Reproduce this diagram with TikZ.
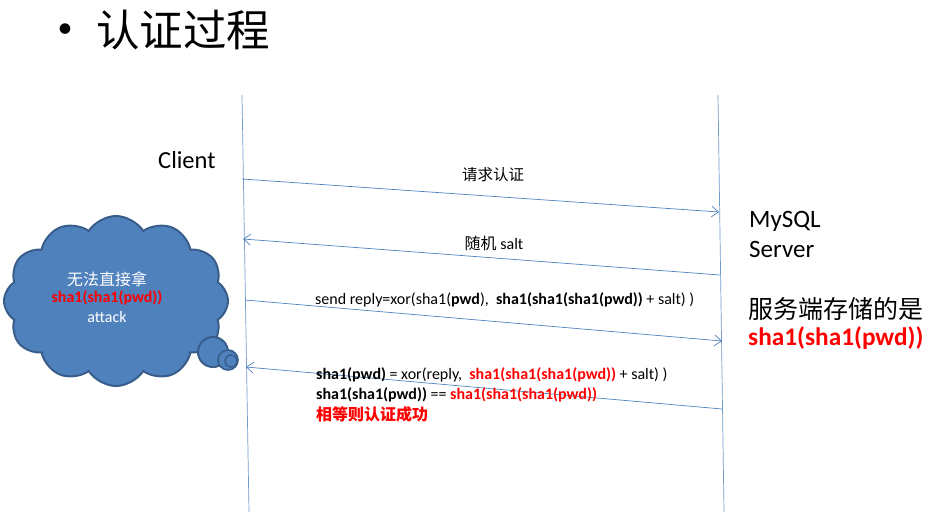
\documentclass[tikz,border=0pt]{standalone}
\usepackage{fontspec}
\setmainfont{Carlito}
\newfontfamily\cjk{Noto Sans CJK SC}
\usetikzlibrary{arrows.meta,shapes.symbols}
\definecolor{lineblue}{RGB}{79,129,189}
\definecolor{cloudfill}{RGB}{79,129,189}
\definecolor{clouddraw}{RGB}{56,93,138}
\definecolor{myred}{RGB}{255,0,0}
\tikzset{
  lifeline/.style={draw=lineblue!80, line width=0.7pt},
  msg/.style={draw=lineblue, line width=0.7pt, -{Straight Barb[length=7pt,width=11pt,line width=0.7pt]}},
  lbl/.style={inner sep=0pt, font=\fontsize{16}{19}\selectfont},
  bigtxt/.style={inner sep=0pt, anchor=west, font=\fontsize{25}{29}\selectfont},
  puff/.style={fill=cloudfill, draw=clouddraw, line width=2pt}
}
\begin{document}
\begin{tikzpicture}[x=1pt,y=-1pt]
\useasboundingbox (0,0) rectangle (929,515);
% title
\node[inner sep=0pt] (bullet) at (65,31) {\fontsize{30}{30}\selectfont •};
\node[inner sep=0pt, anchor=west] (title) at (96,30) {\cjk\fontsize{43.5}{47}\selectfont 认证过程};
% lifelines
\coordinate (ct) at (242,95);
\coordinate (cb) at (249,512);
\coordinate (st) at (718,95);
\coordinate (sb) at (724,512);
\draw[lifeline] (ct) -- (cb);
\draw[lifeline] (st) -- (sb);
% labels of parties
\node[bigtxt, font=\fontsize{24.5}{28}\selectfont] (client) at (158,160) {Client};
\node[bigtxt] (mysql) at (749,221) {MySQL};
\node[bigtxt] (server) at (749,249) {Server};
\node[bigtxt, font=\cjk\fontsize{25}{29}\selectfont] (store) at (748,309) {服务端存储的是};
\node[bigtxt, font=\bfseries\fontsize{25.3}{29}\selectfont, text=myred] (storehash) at (748,338) {sha1(sha1(pwd))};
% message endpoints
\coordinate (m1a) at (242,179);
\coordinate (m1b) at (719,212);
\coordinate (m2a) at (720,275);
\coordinate (m2b) at (243,239);
\coordinate (m3a) at (245,300);
\coordinate (m3b) at (722,341);
\coordinate (m4a) at (722,409);
\coordinate (m4b) at (246,367);
\draw[msg] (m1a) -- (m1b);
\draw[msg] (m2a) -- (m2b);
\draw[msg] (m3a) -- (m3b);
\draw[msg] (m4a) -- (m4b);
% message labels
\node[lbl, font=\cjk\fontsize{15.5}{18}\selectfont] (l1) at (493,175) {请求认证};
\node[lbl] (l2) at (494,243) {{\cjk 随机} salt};
\node[lbl, anchor=west] (l3) at (315,300) {send reply=xor(sha1(\textbf{pwd}),\ \ \textbf{sha1(sha1(sha1(pwd))}\ + salt) )};
\node[lbl, anchor=west] (l4) at (316,375) {\textbf{sha1(pwd)} = xor(reply,\ \ \textcolor{myred}{\bfseries sha1(sha1(sha1(pwd))}\ + salt) )};
\node[lbl, anchor=west] (l5) at (316,395) {\textbf{sha1(sha1(pwd))} == \textcolor{myred}{\bfseries sha1(sha1(sha1(pwd))}};
\node[lbl, anchor=west, text=myred, font=\cjk\bfseries\fontsize{16}{18}\selectfont] (l6) at (316,414) {相等则认证成功};
% cloud
\node[cloud, puff, cloud puffs=12, cloud puff arc=115, aspect=1.3, minimum width=224pt, minimum height=170pt, inner sep=0pt] (cloud) at (116,301) {};
\node[puff, circle, minimum size=30pt, inner sep=0pt] (p1) at (213,352) {};
\node[puff, circle, minimum size=20pt, inner sep=0pt, line width=1.6pt] (p2) at (228,360) {};
\node[puff, circle, minimum size=12pt, inner sep=0pt, line width=1.4pt] (p3) at (231,361) {};
\node[inner sep=0pt, text=white, font=\cjk\fontsize{16}{18}\selectfont] (c1) at (107,279) {无法直接拿};
\node[inner sep=0pt, text=myred, font=\bfseries\fontsize{16}{18}\selectfont] (c2) at (107,298) {sha1(sha1(pwd))};
\node[inner sep=0pt, text=white, font=\fontsize{16}{18}\selectfont] (c3) at (107,317) {attack};
\end{tikzpicture}
\end{document}
